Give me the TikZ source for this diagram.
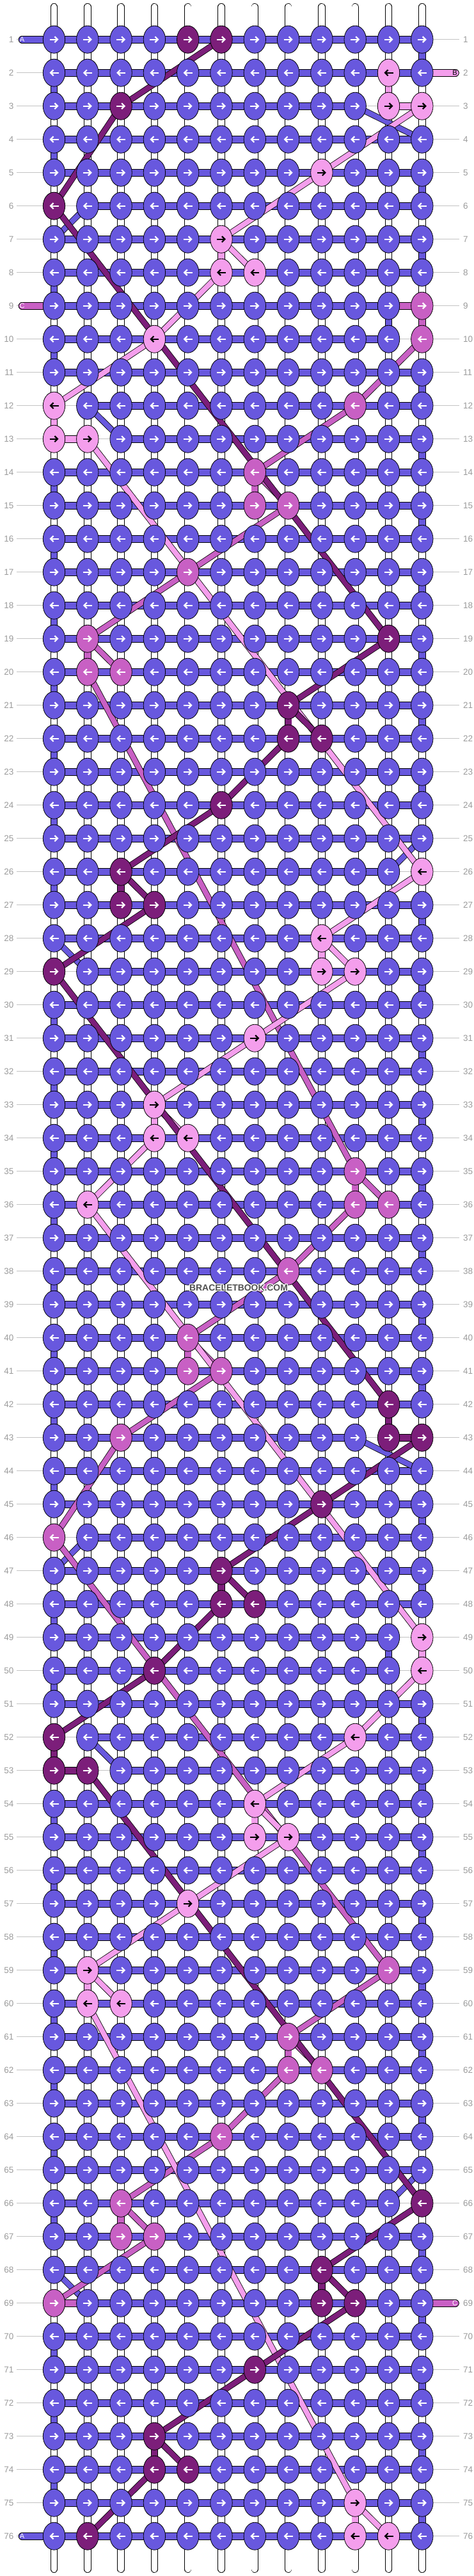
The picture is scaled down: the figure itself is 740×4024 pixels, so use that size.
\documentclass[tikz,border=0pt]{standalone}
\usepackage{fontspec}
\setmainfont{Liberation Sans}
\usetikzlibrary{arrows.meta,shapes.geometric}
\definecolor{cB}{RGB}{104,88,222}
\definecolor{cD}{RGB}{124,30,122}
\definecolor{cP}{RGB}{244,158,236}
\definecolor{cO}{RGB}{200,96,196}
\definecolor{guide}{RGB}{195,195,195}
\definecolor{lbl}{RGB}{155,155,155}
\definecolor{wmgray}{RGB}{80,80,80}

\newcommand\setks[2]{\foreach \ua/\ub in {#2}{\expandafter\xdef\csname kc-\ua-\ub\endcsname{#1}}}
\newcommand\sethb[3]{\expandafter\gdef\csname hb-#1-#2\endcsname{#3}}
\newcommand\setvt[1]{\foreach \ua in {#1}{\expandafter\xdef\csname vt-\ua\endcsname{X}}}

\setks{D}{1/5,1/6,3/3,6/1,19/11,21/8,22/8,22/9,24/6,26/3,27/3,27/4,29/1,42/11,43/11,43/12,45/9,47/6,48/6,48/7,50/4,52/1,53/1,53/2,66/12,68/9,69/9,69/10,71/7,73/4,74/4,74/5,76/2}
\setks{P}{2/11,3/11,3/12,5/9,7/6,8/6,8/7,10/4,12/1,13/1,13/2,26/12,28/9,29/9,29/10,31/7,33/4,34/4,34/5,36/2,49/12,50/12,52/10,54/7,55/7,55/8,57/5,59/2,60/2,60/3,75/10,76/10,76/11}
\setks{O}{9/12,10/12,12/10,14/7,15/7,15/8,17/5,19/2,20/2,20/3,35/10,36/10,36/11,38/8,40/5,41/5,41/6,43/3,46/1,59/11,61/8,62/8,62/9,64/6,66/3,67/3,67/4,69/1}

\sethb{3}{10}{X}\sethb{3}{11}{P}\sethb{6}{1}{X}\sethb{9}{11}{O}\sethb{10}{11}{X}
\sethb{12}{1}{X}\sethb{13}{1}{P}\sethb{13}{2}{X}\sethb{26}{11}{X}\sethb{29}{1}{X}
\sethb{43}{10}{X}\sethb{43}{11}{D}\sethb{46}{1}{X}\sethb{49}{11}{X}\sethb{50}{11}{X}
\sethb{52}{1}{X}\sethb{53}{1}{D}\sethb{53}{2}{X}\sethb{66}{11}{X}\sethb{69}{1}{O}

\setvt{3,9,25,43,49,65,6,12,28,46,52,68}

\tikzset{
 knot/.style={ellipse, draw=black, line width=0.8pt, minimum width=34.4pt, minimum height=43pt, inner sep=0pt},
 bar/.style={draw=black, line width=0.8pt, double=#1, double distance=10pt},
 strand/.style={draw=black, line width=0.8pt, double=#1, double distance=9.8pt},
 thr/.style={draw=black, line width=0.8pt, double=#1, double distance=8pt, line join=round},
 stub/.style={draw=black, line width=0.8pt, double=#1, double distance=10pt, line cap=round},
 guideline/.style={draw=guide, line width=1.2pt},
 arrw/.style={line width=2.2pt, -{Straight Barb[length=4.5pt,width=9pt]}},
 rowlbl/.style={text=lbl, font=\fontsize{13.5}{13.5}\selectfont, inner sep=0pt},
 stublbl/.style={font=\fontsize{11}{11}\selectfont, inner sep=0pt},
 wm/.style={font=\fontsize{13.9}{14}\selectfont\bfseries, inner sep=0pt},
}

\begin{document}
\begin{tikzpicture}[x=1pt,y=-1pt]
\useasboundingbox (0,0) rectangle (740,4024);
% grid coordinates
\foreach \ri in {1,...,76}{\foreach \ci in {1,...,12}{
  \coordinate (p-\ri-\ci) at ({84.5+(\ci-1)*52.3},{61.7+(\ri-1)*52});}}
\foreach \ci in {1,...,12}{
  \coordinate (top-\ci) at ({84.5+(\ci-1)*52.3},10.7);
  \coordinate (bot-\ci) at ({84.5+(\ci-1)*52.3},4013.3);}
% guide lines
\foreach \ri in {1,...,76}{
  \coordinate (gl-\ri) at (26,{61.7+(\ri-1)*52});
  \coordinate (gr-\ri) at (718,{61.7+(\ri-1)*52});
  \draw[guideline] (gl-\ri) -- (gr-\ri);}
% vertical strings
\foreach \ci in {1,...,12}{\draw[strand=white, line cap=round] (top-\ci) -- (bot-\ci);}
% stubs
\coordinate (sA1) at (34.5,61.7);
\coordinate (sB) at (712,113.7);
\coordinate (sC1) at (34.5,477.7);
\coordinate (sC2) at (712,3597.7);
\coordinate (sA2) at (34.5,3961.7);
\draw[stub=cB] (sA1) -- (p-1-1);
\draw[stub=cP] (p-2-12) -- (sB);
\draw[stub=cO] (sC1) -- (p-9-1);
\draw[stub=cO] (p-69-12) -- (sC2);
\draw[stub=cB] (sA2) -- (p-76-1);
% row bars
\foreach \ri in {1,...,76}{
 \foreach \ci [evaluate=\ci as \cn using int(\ci+1)] in {1,...,11}{
   \edef\hb{\ifcsname hb-\ri-\ci\endcsname\csname hb-\ri-\ci\endcsname\else B\fi}
   \if X\hb\else
     \edef\tmp{\noexpand\draw[bar=c\hb] (p-\ri-\ci) -- (p-\ri-\cn);}\tmp
   \fi
 }}
% turn segments
\foreach \ri [evaluate=\ri as \rn using int(\ri+1)] in {1,3,...,75}{
  \ifcsname vt-\ri\endcsname\else\draw[strand=cB] (p-\ri-12) -- (p-\rn-12);\fi}
\foreach \ri [evaluate=\ri as \rn using int(\ri+1)] in {2,4,...,74}{
  \ifcsname vt-\ri\endcsname\else\draw[strand=cB] (p-\ri-1) -- (p-\rn-1);\fi}
\draw[strand=cB] (p-9-11) -- (p-10-11);
\draw[strand=cB] (p-49-11) -- (p-50-11);
% coloured vertical links
\foreach \ra/\ca/\rb/\cb in {21/8/22/8,26/3/27/3,42/11/43/11,47/6/48/6,52/1/53/1,68/9/69/9,73/4/74/4}
  {\draw[strand=cD] (p-\ra-\ca) -- (p-\rb-\cb);}
\foreach \ra/\ca/\rb/\cb in {2/11/3/11,7/6/8/6,12/1/13/1,28/9/29/9,33/4/34/4,49/12/50/12,54/7/55/7,59/2/60/2,75/10/76/10}
  {\draw[strand=cP] (p-\ra-\ca) -- (p-\rb-\cb);}
\foreach \ra/\ca/\rb/\cb in {9/12/10/12,14/7/15/7,19/2/20/2,35/10/36/10,40/5/41/5,61/8/62/8,66/3/67/3}
  {\draw[strand=cO] (p-\ra-\ca) -- (p-\rb-\cb);}
% blue diagonal links
\foreach \ra/\ca/\rb/\cb in {3/10/4/12,6/2/7/1,12/2/13/3,25/12/26/11,28/1/29/2,43/10/44/12,46/2/47/1,52/2/53/3,65/12/66/11,68/1/69/2}
  {\draw[thr=cB] (p-\ra-\ca) -- (p-\rb-\cb);}
% orchid thread
\foreach \ra/\ca/\rb/\cb in {10/12/12/10,12/10/14/7,14/7/15/8,15/8/17/5,17/5/19/2,19/2/20/3,20/2/35/10,35/10/36/11,36/10/38/8,38/8/40/5,40/5/41/6,41/6/43/3,43/3/46/1,46/1/59/11,59/11/61/8,61/8/62/9,62/8/64/6,64/6/66/3,66/3/67/4,67/4/69/1}
  {\draw[thr=cO] (p-\ra-\ca) -- (p-\rb-\cb);}
% pink thread
\foreach \ra/\ca/\rb/\cb in {3/12/5/9,5/9/7/6,7/6/8/7,8/6/10/4,10/4/12/1,13/2/26/12,26/12/28/9,28/9/29/10,29/10/31/7,31/7/33/4,33/4/34/5,34/4/36/2,36/2/49/12,50/12/52/10,52/10/54/7,54/7/55/8,55/8/57/5,57/5/59/2,59/2/60/3,60/2/75/10,75/10/76/11}
  {\draw[thr=cP] (p-\ra-\ca) -- (p-\rb-\cb);}
% dark thread
\foreach \ra/\ca/\rb/\cb in {1/6/3/3,3/3/6/1,6/1/19/11,19/11/21/8,21/8/22/9,22/8/24/6,24/6/26/3,26/3/27/4,27/4/29/1,29/1/42/11,43/12/45/9,45/9/47/6,47/6/48/7,48/6/50/4,50/4/52/1,53/2/66/12,66/12/68/9,68/9/69/10,69/10/71/7,71/7/73/4,73/4/74/5,74/4/76/2}
  {\draw[thr=cD] (p-\ra-\ca) -- (p-\rb-\cb);}
% knots with arrows
\foreach \ri in {1,...,76}{\foreach \ci in {1,...,12}{
  \edef\kk{\ifcsname kc-\ri-\ci\endcsname\csname kc-\ri-\ci\endcsname\else B\fi}
  \edef\ac{\if P\kk black\else white\fi}
  \edef\tmp{\noexpand\node[knot,fill=c\kk] (k-\ri-\ci) at (p-\ri-\ci) {};}\tmp
  \pgfmathsetmacro\xx{84.5+(\ci-1)*52.3}
  \pgfmathsetmacro\yy{61.7+(\ri-1)*52}
  \ifodd\ri
    \edef\tmp{\noexpand\draw[arrw,draw=\ac] ({\xx-7},\yy) -- ({\xx+7},\yy);}
  \else
    \edef\tmp{\noexpand\draw[arrw,draw=\ac] ({\xx+7},\yy) -- ({\xx-7},\yy);}
  \fi
  \tmp
}}
% row labels
\foreach \ri in {1,...,76}{
  \node[rowlbl,anchor=east] (ll-\ri) at (21.5,{61.7+(\ri-1)*52}) {\ri};
  \node[rowlbl,anchor=west] (lr-\ri) at (724,{61.7+(\ri-1)*52}) {\ri};}
% stub letters
\node[stublbl,text=white] (tA1) at (sA1) {A};
\node[stublbl,text=black] (tB) at ([xshift=-1pt]sB) {B};
\node[stublbl,text=white] (tC1) at (sC1) {C};
\node[stublbl,text=white] (tC2) at ([xshift=-1pt]sC2) {C};
\node[stublbl,text=white] (tA2) at (sA2) {A};
% watermark
\foreach \dx/\dy [count=\n] in {-1/0,1/0,0/-1,0/1,-1/-1,1/1,-1/1,1/-1}
  {\node[wm,text=white] (wmh\n) at ({373+\dx},{2012+\dy}) {BRACELETBOOK.COM};}
\node[wm,text=wmgray] (wm) at (373,2012) {BRACELETBOOK.COM};
\end{tikzpicture}
\end{document}
